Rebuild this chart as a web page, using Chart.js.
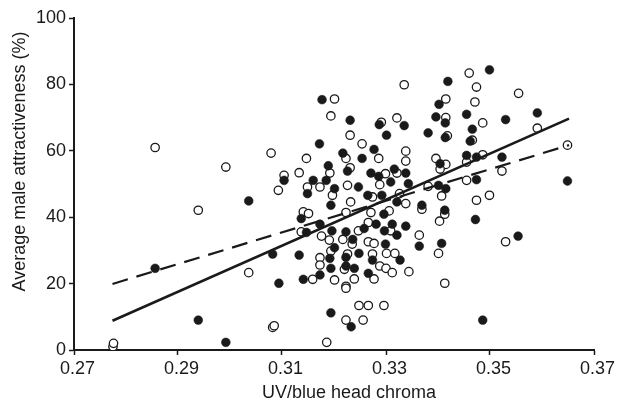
<!DOCTYPE html>
<html>
<head>
<meta charset="utf-8">
<script src="https://cdn.jsdelivr.net/npm/chart.js@4/dist/chart.umd.min.js"></script>
<style>
  html, body { margin: 0; padding: 0; background: #fff; }
  #wrap { width: 626px; height: 405px; position: relative; }
</style>
</head>
<body>
<div id="wrap"><canvas id="chart"></canvas></div>
<script>
// filled circles
const filledChroma = [
  0.2856, 0.2939, 0.2992, 0.3036,
  0.3177, 0.3231, 0.3287, 0.3335, 0.3301, 0.3381, 0.3396, 0.3402, 0.3172, 0.3277, 0.3217, 0.3254,
  0.3189, 0.3226, 0.3271, 0.3316, 0.3338, 0.3286, 0.3104, 0.3160, 0.3185, 0.3309, 0.3343, 0.3201,
  0.3247, 0.3401,
  0.3419, 0.3499, 0.3414, 0.3455, 0.3530, 0.3591, 0.3466, 0.3414, 0.3462, 0.3404, 0.3455, 0.3474,
  0.3523, 0.3474, 0.3649, 0.3415,
  0.3472, 0.3407, 0.3554, 0.3486, 0.3369, 0.3413,
  0.3149, 0.3265, 0.3292, 0.3321, 0.3194, 0.3137, 0.3296, 0.3173, 0.3147, 0.3196, 0.3223, 0.3258,
  0.3281, 0.3312, 0.3338, 0.3297, 0.3321, 0.3364, 0.3201, 0.3236, 0.3299, 0.3082, 0.3133, 0.3192,
  0.3223, 0.3248, 0.3274, 0.3327, 0.3194, 0.3223, 0.3239, 0.3266, 0.3173, 0.3141, 0.3094, 0.3194,
  0.3233
];
const filledAttract = [
  24.6, 9.0, 2.3, 44.9,
  75.4, 69.2, 67.9, 67.6, 64.7, 65.4, 70.2, 74.0, 62.1, 60.4, 59.3, 57.7,
  55.5, 53.9, 53.3, 54.5, 53.3, 52.3, 51.1, 51.1, 51.1, 50.6, 50.1, 48.6,
  49.1, 49.6,
  80.9, 84.4, 68.4, 71.0, 69.4, 71.4, 66.5, 64.0, 62.9, 56.1, 58.6, 58.1,
  58.1, 51.3, 50.9, 48.6,
  39.3, 32.1, 34.3, 9.0, 43.6, 42.1,
  47.1, 46.6, 46.6, 44.6, 43.6, 39.6, 40.9, 37.9, 35.4, 35.9, 35.6, 36.6,
  37.9, 37.9, 37.3, 35.9, 34.6, 31.3, 30.8, 33.3, 31.9, 28.9, 28.6, 27.6,
  27.9, 29.1, 27.1, 27.1, 24.6, 25.3, 24.6, 23.1, 22.6, 21.3, 20.1, 11.2,
  7.0
];

// open circles
const openChroma = [
  0.2775, 0.2776, 0.2856, 0.2992, 0.2939, 0.3036, 0.3186,
  0.3335, 0.3201, 0.3194, 0.3291, 0.3321, 0.3231, 0.3079, 0.3254, 0.3338, 0.3147, 0.3223, 0.3286,
  0.3338, 0.3396, 0.3231, 0.3133, 0.3192, 0.3299, 0.3321, 0.3104, 0.3288, 0.3149, 0.3173, 0.3226,
  0.3093, 0.3381,
  0.3460, 0.3474, 0.3555, 0.3415, 0.3471, 0.3415, 0.3486, 0.3591, 0.3418, 0.3466, 0.3415, 0.3404,
  0.3486, 0.3455, 0.3523, 0.3455, 0.3649,
  0.3407, 0.3474, 0.3499, 0.3369, 0.3413, 0.3403, 0.3401, 0.3530, 0.3413,
  0.3197, 0.3274, 0.3326, 0.3338, 0.3232, 0.3141, 0.3151, 0.3223, 0.3271, 0.3306, 0.3266, 0.3137,
  0.3247, 0.3309, 0.3364, 0.3176, 0.3191, 0.3217, 0.3235, 0.3266, 0.3277, 0.3194, 0.3173, 0.3226,
  0.3274, 0.3301, 0.3317, 0.3173, 0.3220, 0.3288, 0.3300, 0.3312, 0.3344, 0.3277, 0.3159, 0.3201,
  0.3239, 0.3223, 0.3223, 0.3248, 0.3266, 0.3296, 0.3223, 0.3256, 0.3082, 0.3085
];
const openAttract = [
  1.0, 2.0, 61.0, 55.1, 42.1, 23.3, 2.3,
  79.9, 75.6, 70.5, 68.6, 69.9, 64.7, 59.3, 62.1, 59.9, 57.7, 57.7, 57.7,
  56.9, 57.7, 54.9, 53.4, 53.3, 53.1, 53.3, 52.6, 49.8, 49.1, 49.1, 49.6,
  48.1, 49.3,
  83.4, 79.2, 77.3, 75.6, 74.7, 70.0, 68.4, 66.8, 64.5, 63.2, 55.9, 54.5,
  58.8, 56.6, 53.9, 51.1, 61.7,
  46.4, 45.1, 46.6, 42.4, 40.9, 38.8, 29.1, 32.6, 20.1,
  46.6, 46.1, 47.1, 44.1, 44.6, 41.6, 41.1, 41.4, 41.4, 41.9, 38.4, 35.6,
  35.9, 35.9, 34.6, 34.3, 33.1, 33.3, 31.9, 32.6, 32.1, 29.8, 27.8, 28.9,
  28.9, 29.1, 29.1, 25.6, 24.3, 25.3, 24.6, 23.3, 23.6, 21.4, 21.3, 21.1,
  21.4, 19.2, 18.6, 13.4, 13.4, 13.4, 9.0, 9.0, 6.8, 7.3
];

// regression lines
const fitChroma = [0.2774, 0.3652];
const solidFit = [8.8, 69.7];
const dashedFit = [19.9, 61.7];

const xTicks = [0.27, 0.29, 0.31, 0.33, 0.35, 0.37];
const yTicks = [0, 20, 40, 60, 80, 100];

const pts = (xs, ys) => xs.map((x, i) => ({ x: x, y: ys[i] }));

const FONT = '"Liberation Sans", Arial, Helvetica, sans-serif';
const INK = '#1a1a1a';

new Chart(document.getElementById('chart'), {
  type: 'scatter',
  data: {
    datasets: [
      {
        label: 'open',
        data: pts(openChroma, openAttract),
        pointRadius: 4.2,
        pointBackgroundColor: '#fff',
        pointBorderColor: INK,
        pointBorderWidth: 1.3,
        order: 3
      },
      {
        label: 'filled',
        data: pts(filledChroma, filledAttract),
        pointRadius: 4.4,
        pointBackgroundColor: INK,
        pointBorderColor: INK,
        pointBorderWidth: 0.5,
        order: 2
      },
      {
        label: 'dashed fit',
        data: pts(fitChroma, dashedFit),
        showLine: true,
        pointRadius: 0,
        borderColor: INK,
        borderWidth: 2.2,
        borderDash: [16, 9],
        order: 1
      },
      {
        label: 'solid fit',
        data: pts(fitChroma, solidFit),
        showLine: true,
        pointRadius: 0,
        borderColor: INK,
        borderWidth: 2.6,
        order: 0
      }
    ]
  },
  options: {
    responsive: true,
    maintainAspectRatio: false,
    animation: false,
    layout: { padding: { top: 18, right: 32, left: 0, bottom: 0 } },
    plugins: { legend: { display: false }, tooltip: { enabled: false } },
    scales: {
      x: {
        type: 'linear',
        min: 0.27,
        max: 0.37,
        afterFit: (s) => { s.height = 55; },
        afterBuildTicks: (s) => { s.ticks = xTicks.map(v => ({ value: v })); },
        ticks: {
          color: INK,
          font: { family: FONT, size: 18 },
          padding: 3,
          labelOffset: 3.5,
          callback: (v) => Number(v).toFixed(2)
        },
        grid: { drawOnChartArea: false, tickLength: 5, tickColor: INK, tickWidth: 1.5 },
        border: { color: INK, width: 2 },
        title: {
          display: true,
          // leading spaces nudge the title right, as in the original figure
          text: '      UV/blue head chroma',
          color: INK,
          font: { family: FONT, size: 18 },
          padding: { top: 1, bottom: 1 }
        }
      },
      y: {
        min: 0,
        max: 100,
        afterFit: (s) => { s.width = 74; },
        afterBuildTicks: (s) => { s.ticks = yTicks.map(v => ({ value: v })); },
        ticks: {
          color: INK,
          font: { family: FONT, size: 18 },
          padding: 3
        },
        grid: { drawOnChartArea: false, tickLength: 5, tickColor: INK, tickWidth: 1.5 },
        border: { color: INK, width: 2 },
        title: {
          display: true,
          text: '         Average male attractiveness (%)',
          color: INK,
          font: { family: FONT, size: 18 },
          padding: { top: 9, bottom: 2 }
        }
      }
    }
  }
});
</script>
</body>
</html>
